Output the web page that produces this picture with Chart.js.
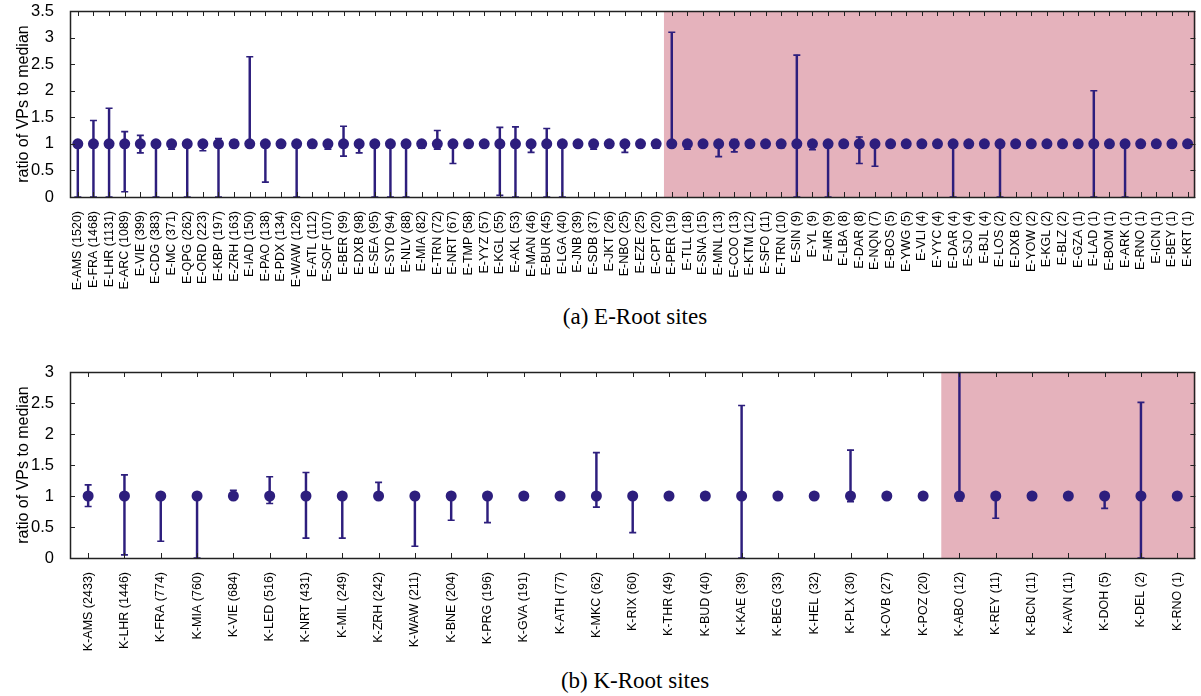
<!DOCTYPE html>
<html>
<head>
<meta charset="utf-8">
<script src="https://cdn.jsdelivr.net/npm/chart.js@4"></script>
<style>
  body { margin: 0; background: #fff; width: 1201px; height: 696px; position: relative; overflow: hidden; }
  .panel { position: absolute; left: 0; }
  .cap { position: absolute; left: 70px; width: 1130px; text-align: center;
         font-family: "Liberation Serif", "DejaVu Serif", serif; font-size: 23px; color: #000; }
</style>
</head>
<body>
<canvas id="eChart" class="panel" style="top:0" width="1201" height="300"></canvas>
<div class="cap" style="top:304px">(a) E-Root sites</div>
<canvas id="kChart" class="panel" style="top:360px" width="1201" height="300"></canvas>
<div class="cap" style="top:668px">(b) K-Root sites</div>
<script>
// E-Root sites (VP count in brackets)
const eSites = ['E-AMS (1520)', 'E-FRA (1468)', 'E-LHR (1131)', 'E-ARC (1089)', 'E-VIE (399)', 'E-CDG (383)',
  'E-MC (371)', 'E-QPG (262)', 'E-ORD (223)', 'E-KBP (197)', 'E-ZRH (163)', 'E-IAD (150)', 'E-PAO (138)',
  'E-PDX (134)', 'E-WAW (126)', 'E-ATL (112)', 'E-SOF (107)', 'E-BER (99)', 'E-DXB (98)', 'E-SEA (95)',
  'E-SYD (94)', 'E-NLV (88)', 'E-MIA (82)', 'E-TRN (72)', 'E-NRT (67)', 'E-TMP (58)', 'E-YYZ (57)',
  'E-KGL (55)', 'E-AKL (53)', 'E-MAN (46)', 'E-BUR (45)', 'E-LGA (40)', 'E-JNB (39)', 'E-SDB (37)',
  'E-JKT (26)', 'E-NBO (25)', 'E-EZE (25)', 'E-CPT (20)', 'E-PER (19)', 'E-TLL (18)', 'E-SNA (15)',
  'E-MNL (13)', 'E-COO (13)', 'E-KTM (12)', 'E-SFO (11)', 'E-TRN (10)', 'E-SIN (9)', 'E-YL (9)', 'E-MR (9)',
  'E-LBA (8)', 'E-DAR (8)', 'E-NQN (7)', 'E-BOS (5)', 'E-YWG (5)', 'E-VLI (4)', 'E-YYC (4)', 'E-DAR (4)',
  'E-SJO (4)', 'E-BJL (4)', 'E-LOS (2)', 'E-DXB (2)', 'E-YOW (2)', 'E-KGL (2)', 'E-BLZ (2)', 'E-GZA (1)',
  'E-LAD (1)', 'E-BOM (1)', 'E-ARK (1)', 'E-RNO (1)', 'E-ICN (1)', 'E-BEY (1)', 'E-KRT (1)'];
const eRatio = [1, 1, 1, 1, 1, 1, 1, 1, 1, 1, 1, 1, 1, 1, 1, 1, 1, 1, 1, 1, 1, 1, 1, 1, 1, 1, 1, 1, 1, 1, 1, 1, 1, 1, 1, 1,
  1, 1, 1, 1, 1, 1, 1, 1, 1, 1, 1, 1, 1, 1, 1, 1, 1, 1, 1, 1, 1, 1, 1, 1, 1, 1, 1, 1, 1, 1, 1, 1, 1, 1, 1, 1];
const eLow = [0, 0, 0, 0.1, 0.83, 0, 0.9, 0, 0.87, 0, 0.95, 1, 0.28, 1, 0, 0.93, 0.9, 0.77, 0.83, 0, 0, 0,
  0.92, 0.9, 0.63, 1, 1, 0.03, 0, 0.84, 0, 0, 1, 0.9, 0.95, 0.84, 0.95, 0.92, 1, 0.9, 1, 0.76, 0.85, 0.95,
  0.95, 0.93, 0, 0.89, 0, 1, 0.63, 0.58, 1, 1, 1, 1, 0, 1, 1, 0, 1, 1, 1, 1, 1, 0, 1, 0, 1, 1, 1, 1];
const eHigh = [1, 1.44, 1.67, 1.23, 1.16, 1, 1.02, 1, 1, 1.1, 1.07, 2.64, 1, 1, 1, 1, 1, 1.33, 1, 1, 1, 1,
  1, 1.25, 1, 1, 1, 1.31, 1.32, 1, 1.29, 1, 1, 1, 1, 1, 1, 1, 3.1, 1, 1, 1.05, 1.08, 1, 1, 1, 2.67, 1, 1,
  1, 1.13, 1, 1, 1, 1, 1, 1, 1, 1, 1, 1, 1, 1, 1, 1, 2.0, 1, 1, 1, 1, 1, 1];
const eShadeFrom = 38; // first site with < 20 VPs

// K-Root sites
const kSites = ['K-AMS (2433)', 'K-LHR (1446)', 'K-FRA (774)', 'K-MIA (760)', 'K-VIE (684)', 'K-LED (516)',
  'K-NRT (431)', 'K-MIL (249)', 'K-ZRH (242)', 'K-WAW (211)', 'K-BNE (204)', 'K-PRG (196)', 'K-GVA (191)',
  'K-ATH (77)', 'K-MKC (62)', 'K-RIX (60)', 'K-THR (49)', 'K-BUD (40)', 'K-KAE (39)', 'K-BEG (33)',
  'K-HEL (32)', 'K-PLX (30)', 'K-OVB (27)', 'K-POZ (20)', 'K-ABO (12)', 'K-REY (11)', 'K-BCN (11)',
  'K-AVN (11)', 'K-DOH (5)', 'K-DEL (2)', 'K-RNO (1)'];
const kRatio = [1, 1, 1, 1, 1, 1, 1, 1, 1, 1, 1, 1, 1, 1, 1, 1, 1, 1, 1, 1, 1, 1, 1, 1, 1, 1, 1, 1, 1, 1, 1];
const kLow = [0.83, 0.05, 0.27, 0, 0.97, 0.88, 0.32, 0.32, 0.95, 0.19, 0.61, 0.57, 0.94, 1, 0.82, 0.41, 1, 1,
  0, 1, 1, 0.91, 0.95, 1, 0.92, 0.64, 1, 1, 0.8, 0, 1];
const kHigh = [1.18, 1.34, 1, 1, 1.09, 1.31, 1.38, 1, 1.22, 1, 1, 1, 1, 1, 1.7, 1, 1, 1, 2.46, 1.03, 1.02,
  1.74, 1, 1, 3.3, 1, 1, 1, 1, 2.51, 1];
const kShadeFrom = 24;

const ink = 'rgb(45,30,125)';
const shade = 'rgb(229,178,188)';
const sans = 'Liberation Sans, Arial, sans-serif';

const framePlugin = {
  id: 'frame',
  beforeDatasetsDraw(chart, args, opts) {
    const { ctx, chartArea: a, scales: { x } } = chart;
    const from = x.getPixelForValue(opts.shadeFrom - 0.5);
    ctx.save();
    ctx.fillStyle = shade;
    ctx.fillRect(from, a.top, a.right - from, a.bottom - a.top);
    ctx.restore();
  },
  afterDatasetsDraw(chart) {
    const { ctx, chartArea: a, scales: { x, y } } = chart;
    ctx.save();
    ctx.strokeStyle = '#222';
    ctx.lineWidth = 1;
    ctx.beginPath();
    x.ticks.forEach((t, i) => {
      const px = Math.round(x.getPixelForTick(i)) + 0.5;
      ctx.moveTo(px, a.bottom); ctx.lineTo(px, a.bottom - 5);
      ctx.moveTo(px, a.top); ctx.lineTo(px, a.top + 5);
    });
    y.ticks.forEach((t, i) => {
      const py = Math.round(y.getPixelForTick(i)) + 0.5;
      ctx.moveTo(a.left, py); ctx.lineTo(a.left + 5, py);
      ctx.moveTo(a.right, py); ctx.lineTo(a.right - 5, py);
    });
    ctx.stroke();
    ctx.lineWidth = 1.5;
    ctx.strokeRect(Math.round(a.left) + 0.5, Math.round(a.top) + 0.5,
      Math.round(a.right - a.left) - 1, Math.round(a.bottom - a.top));
    ctx.restore();
  }
};

function makeChart(id, sites, ratio, low, high, yMax, shadeFrom, xHeight, topPad) {
  return new Chart(document.getElementById(id), {
    type: 'bar',
    data: {
      labels: sites,
      datasets: [
        { type: 'line', data: ratio, showLine: false, pointRadius: 5.5, pointHoverRadius: 5.5,
          pointBackgroundColor: ink, pointBorderWidth: 0, order: 0 },
        { type: 'line', data: low, showLine: false, pointStyle: 'line', pointRadius: 3.5,
          pointBorderColor: ink, pointBorderWidth: 1.6, order: 1 },
        { type: 'line', data: high, showLine: false, pointStyle: 'line', pointRadius: 3.5,
          pointBorderColor: ink, pointBorderWidth: 1.6, order: 1 },
        { data: low.map((l, i) => [l, high[i]]), backgroundColor: ink, barThickness: 1.8, order: 2 }
      ]
    },
    options: {
      responsive: false,
      animation: false,
      layout: { padding: { top: topPad, right: 1, left: 0, bottom: 0 } },
      plugins: { legend: { display: false }, tooltip: { enabled: false }, frame: { shadeFrom } },
      scales: {
        x: {
          offset: true,
          grid: { display: false },
          border: { display: false },
          ticks: { autoSkip: false, minRotation: 90, maxRotation: 90, padding: 6, color: '#000',
                   font: { family: sans, size: 12.5 } },
          afterFit(s) { s.height = xHeight; s.paddingLeft = 0; s.paddingRight = 0; }
        },
        y: {
          min: 0, max: yMax,
          grid: { display: false },
          border: { display: false },
          ticks: { stepSize: 0.5, padding: 8, color: '#000', font: { family: sans, size: 16.5 },
                   callback: v => String(+v.toFixed(2)) },
          title: { display: true, text: 'ratio of VPs to median', color: '#000', padding: { top: 14, bottom: 0 },
                   font: { family: sans, size: 16 } },
          afterFit(s) { s.width = 70; s.paddingTop = 0; s.paddingBottom = 0; }
        }
      }
    },
    plugins: [framePlugin]
  });
}

makeChart('eChart', eSites, eRatio, eLow, eHigh, 3.5, eShadeFrom, 103, 11);
makeChart('kChart', kSites, kRatio, kLow, kHigh, 3, kShadeFrom, 102, 12);
</script>
</body>
</html>
